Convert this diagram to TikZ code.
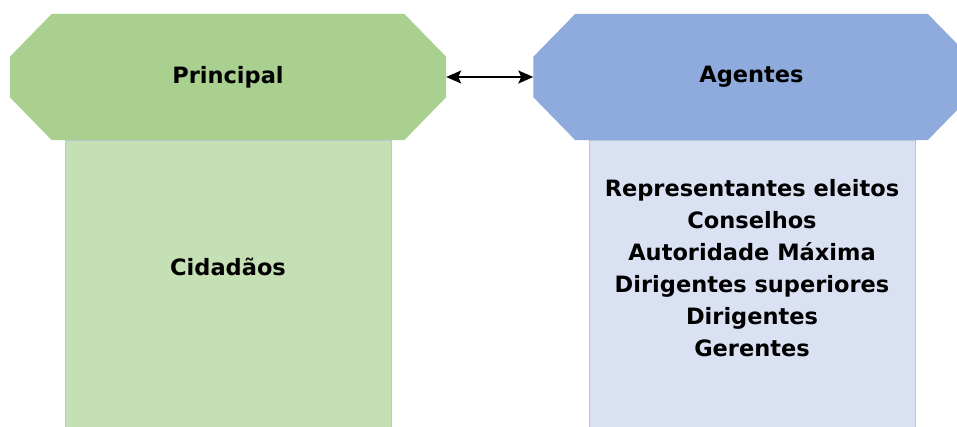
\documentclass[tikz,border=0pt]{standalone}
\usepackage{fontspec}
\setmainfont{DejaVu Sans}
\usepackage{tikz}
\usetikzlibrary{arrows.meta, positioning, calc}
\definecolor{pahead}{HTML}{A9D08E}
\definecolor{pabody}{HTML}{C5E0B4}
\definecolor{aghead}{HTML}{8FAADC}
\definecolor{agbody}{HTML}{DAE1F3}
\definecolor{paline}{HTML}{B8C8DC}
\begin{document}
\begin{tikzpicture}[
  x=1pt, y=-1pt,
  font=\fontsize{22.5}{32}\selectfont\bfseries,
  pahdr/.style={minimum width=436pt, minimum height=126pt, inner sep=0pt},
  pabox/.style={draw=paline, line width=0.6pt, minimum width=326pt,
                minimum height=300pt, inner sep=0pt, anchor=north},
  patxt/.style={align=center, inner sep=0pt},
  paarr/.style={{Stealth[length=15pt,width=13pt,inset=3pt]}-{Stealth[length=15pt,width=13pt,inset=3pt]},
                line width=1.5pt, draw=black}
]
\useasboundingbox (0,0) rectangle (957,427);
\clip (0,0) rectangle (957,427);

% ---------------------------------------------- the two columns
\node[pabox, fill=pabody] (cidbox) at (228,140) {};
\node[pabox, fill=agbody] (agbox) at (752,140) {};

% ---------------------------------------------- the two headers
\node[pahdr] (princ) at (228,77) {};
\node[pahdr] (agent) at (751.5,77) {};
\foreach \hd/\col in {princ/pahead, agent/aghead}
  \fill[\col] ([xshift=42pt]\hd.north west) -- ([xshift=-42pt]\hd.north east)
    -- ([yshift=-43pt]\hd.north east) -- ([yshift=43pt]\hd.south east)
    -- ([xshift=-42pt]\hd.south east) -- ([xshift=42pt]\hd.south west)
    -- ([yshift=43pt]\hd.south west) -- ([yshift=-43pt]\hd.north west) -- cycle;
\node[patxt] at (princ) {Principal};
\node[patxt] at (agent) {Agentes};

\draw[paarr] (princ.east) -- (agent.west);

% ---------------------------------------------- contents
\node[patxt] (cidad) at (228,267) {Cidadãos};
\node[patxt] (aglist) at (752,268)
  {Representantes eleitos\\ Conselhos\\ Autoridade Máxima\\
   Dirigentes superiores\\ Dirigentes\\ Gerentes};

\end{tikzpicture}
\end{document}
